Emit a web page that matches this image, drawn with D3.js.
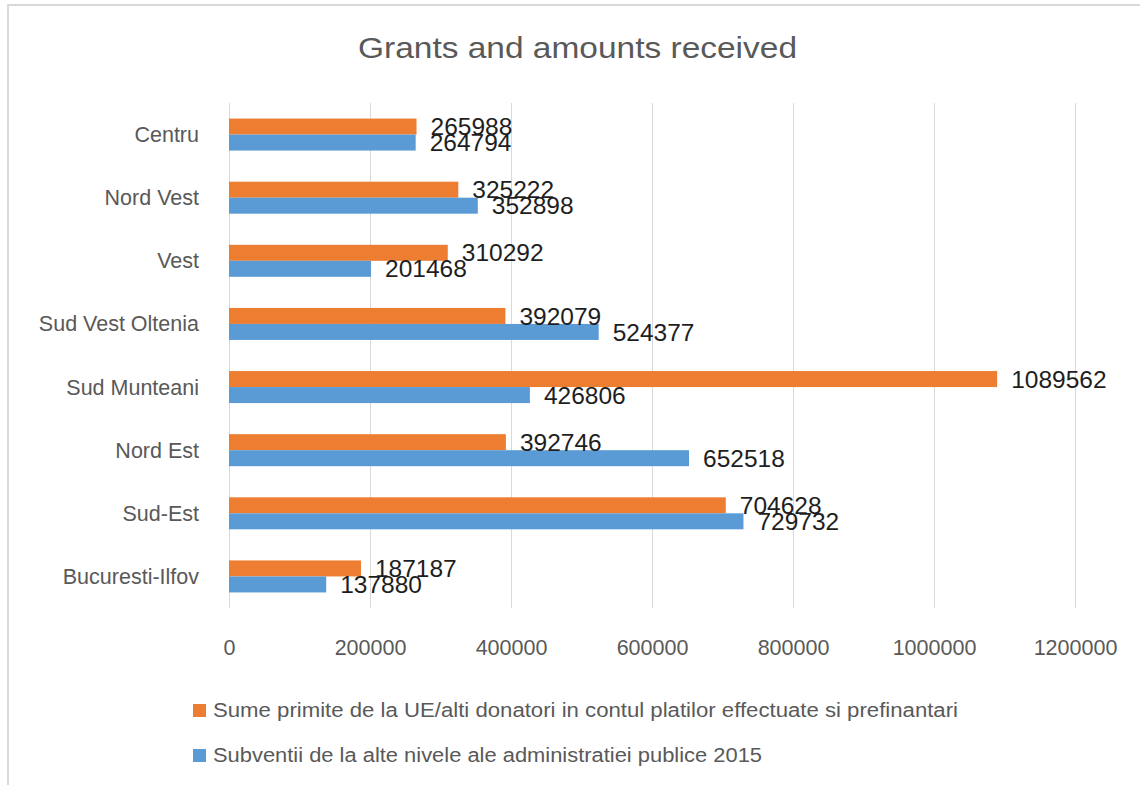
<!DOCTYPE html>
<html>
<head>
<meta charset="utf-8">
<script src="https://cdn.jsdelivr.net/npm/d3@7"></script>
<style>
  html, body { margin: 0; padding: 0; background: #fff; }
  svg { display: block; font-family: "Liberation Sans", Arial, sans-serif; }
</style>
</head>
<body>
<svg id="chart" width="1140" height="785"></svg>
<script>
// Regions, listed top to bottom
const regions = ["Centru", "Nord Vest", "Vest", "Sud Vest Oltenia", "Sud Munteani", "Nord Est", "Sud-Est", "Bucuresti-Ilfov"];
// Amounts received from the EU / other donors
const eUFunds = [265988, 325222, 310292, 392079, 1089562, 392746, 704628, 187187];
// Subsidies from other levels of public administration, 2015
const subsidies = [264794, 352898, 201468, 524377, 426806, 652518, 729732, 137880];
const xTicks = [0, 200000, 400000, 600000, 800000, 1000000, 1200000];
const seriesNames = [
  "Sume primite de la UE/alti donatori in contul platilor effectuate si prefinantari",
  "Subventii de la alte nivele ale administratiei publice 2015"
];
const seriesColors = ["#ED7D31", "#5B9BD5"];
const chartTitle = "Grants and amounts received";

const svg = d3.select("#chart");
const plot = { left: 229, right: 1075, top: 103, bottom: 608 };

// Outer chart frame
svg.append("rect")
  .attr("x", 8).attr("y", 5)
  .attr("width", 1160).attr("height", 820)
  .attr("fill", "#fff")
  .attr("stroke", "#d9d9d9").attr("stroke-width", 2);

const x = d3.scaleLinear().domain([0, 1200000]).range([plot.left, plot.right]);
const y = d3.scaleBand().domain(regions).range([plot.top, plot.bottom])
  .paddingInner(0.493).paddingOuter(0.2465);
const ySub = d3.scaleBand().domain([0, 1]).range([0, y.bandwidth()]);

// Title
svg.append("text")
  .attr("x", 358).attr("y", 58)
  .attr("fill", "#595959")
  .style("font-size", "30px")
  .attr("textLength", 439)
  .attr("lengthAdjust", "spacingAndGlyphs")
  .text(chartTitle);

// Vertical gridlines
svg.append("g")
  .selectAll("line")
  .data(xTicks)
  .join("line")
  .attr("x1", d => Math.round(x(d)) + 0.5).attr("x2", d => Math.round(x(d)) + 0.5)
  .attr("y1", plot.top).attr("y2", plot.bottom)
  .attr("stroke", "#d9d9d9").attr("stroke-width", 1);

// X axis tick labels
const xAxis = d3.axisBottom(x).tickValues(xTicks).tickSize(0).tickPadding(0)
  .tickFormat(d3.format("d"));
const gx = svg.append("g")
  .attr("transform", `translate(0, ${plot.bottom})`)
  .call(xAxis);
gx.select(".domain").remove();
gx.selectAll("text")
  .attr("y", 47).attr("dy", null)
  .attr("fill", "#595959")
  .style("font-family", "\"Liberation Sans\", Arial, sans-serif")
  .style("font-size", "21.5px");

// Category labels
const yAxis = d3.axisLeft(y).tickSize(0).tickPadding(0);
const gy = svg.append("g")
  .attr("transform", `translate(199, 0)`)
  .call(yAxis);
gy.select(".domain").remove();
gy.selectAll("text")
  .attr("dy", "0.35em")
  .attr("fill", "#595959")
  .style("font-family", "\"Liberation Sans\", Arial, sans-serif")
  .style("font-size", "21.5px");

// Bars and value labels
const series = [eUFunds, subsidies];
const rows = [];
series.forEach((vals, s) => {
  vals.forEach((v, i) => rows.push({ region: regions[i], value: v, s }));
});

svg.append("g")
  .selectAll("rect")
  .data(rows)
  .join("rect")
  .attr("x", x(0))
  .attr("y", d => y(d.region) + ySub(d.s))
  .attr("width", d => x(d.value) - x(0))
  .attr("height", ySub.bandwidth())
  .attr("fill", d => seriesColors[d.s]);

svg.append("g")
  .selectAll("text")
  .data(rows)
  .join("text")
  .attr("x", d => x(d.value) + 14)
  .attr("y", d => y(d.region) + ySub(d.s) + ySub.bandwidth() / 2)
  .attr("dy", "0.35em")
  .attr("fill", "#1e1e1e")
  .style("font-size", "24.5px")
  .text(d => d.value);

// Legend
const legendWidths = [745, 549];
const legend = svg.append("g");
seriesNames.forEach((name, i) => {
  const ly = 717 + i * 45;
  legend.append("rect")
    .attr("x", 193).attr("y", ly - 13)
    .attr("width", 13).attr("height", 13)
    .attr("fill", seriesColors[i]);
  legend.append("text")
    .attr("x", 213).attr("y", ly)
    .attr("fill", "#595959")
    .style("font-size", "19.5px")
    .attr("textLength", legendWidths[i])
    .attr("lengthAdjust", "spacingAndGlyphs")
    .text(name);
});
</script>
</body>
</html>
